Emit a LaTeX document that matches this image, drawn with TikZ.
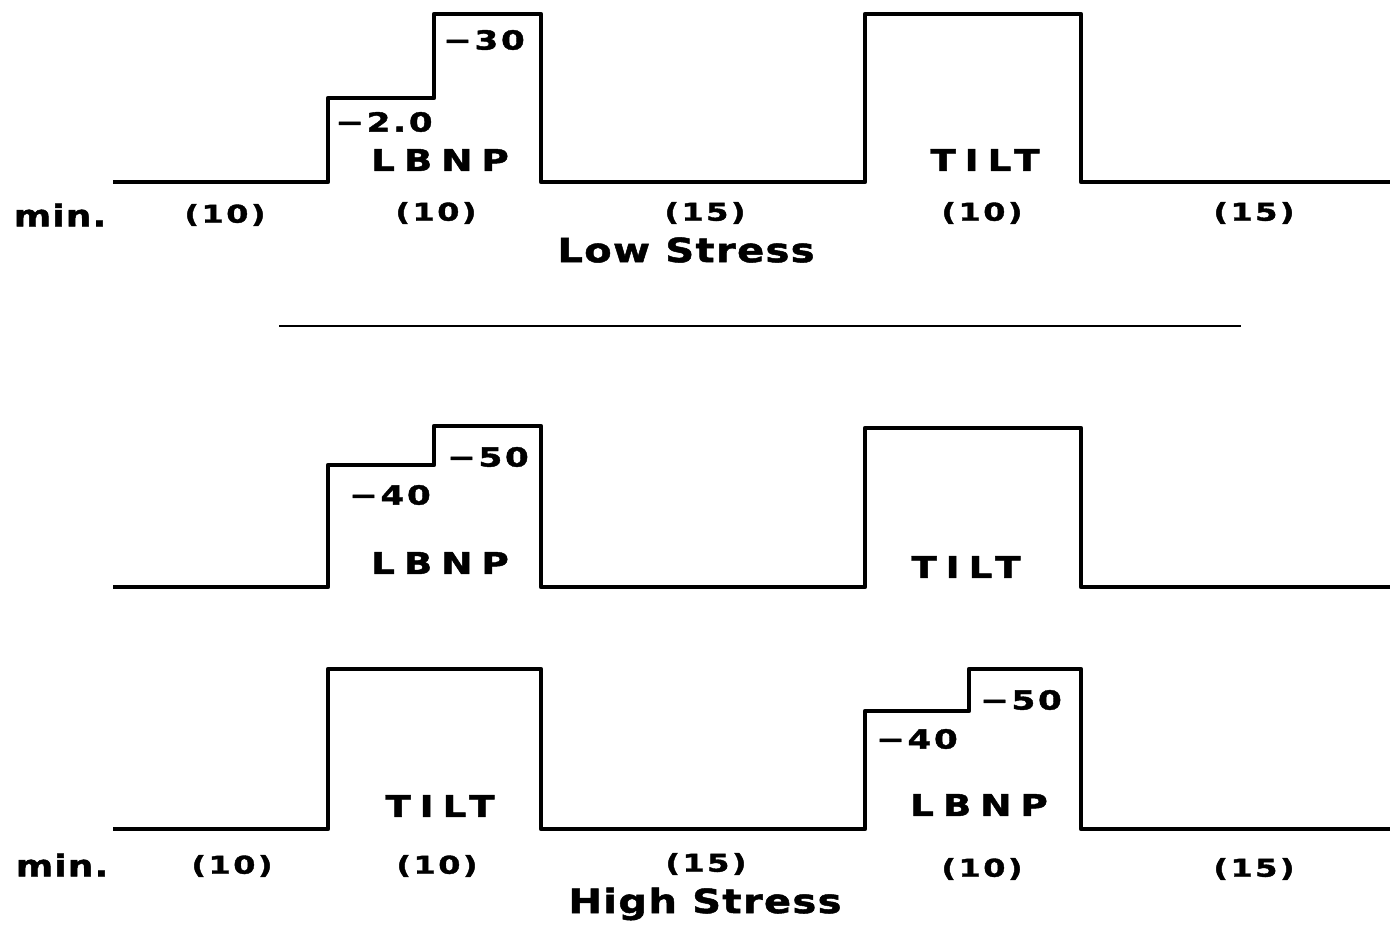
\documentclass[tikz,border=0pt]{standalone}
\usepackage{fontspec}
\setmainfont{DejaVu Sans}[FakeStretch=1.2, LetterSpace=4, FakeBold=1.5]
\newfontfamily\spacedfont{DejaVu Sans}[FakeStretch=1.25, LetterSpace=30, FakeBold=1.5]
\newfontfamily\numfont{DejaVu Sans}[FakeStretch=1.3, LetterSpace=10, FakeBold=1.5]
\usetikzlibrary{positioning}

\begin{document}
\begin{tikzpicture}[x=0.02cm, y=-0.02cm,
  trace/.style={line width=2.5pt, line join=round},
  lvl/.style={font=\numfont\bfseries\fontsize{15}{15}\selectfont, inner sep=0pt},
  task/.style={font=\spacedfont\bfseries\fontsize{17}{17}\selectfont, inner sep=0pt},
  unit/.style={font=\bfseries\fontsize{17}{17}\selectfont, inner sep=0pt},
  dur/.style={font=\numfont\bfseries\fontsize{14}{14}\selectfont, inner sep=0pt},
  title/.style={font=\bfseries\fontsize{19}{19}\selectfont, inner sep=0pt}
]
  \useasboundingbox (0,0) rectangle (1390,925);

  % low stress
  \draw[trace] (113,182) -- (328,182) -- (328,98) -- (434,98) -- (434,14) -- (541,14)
    -- (541,182) -- (865,182) -- (865,14) -- (1081,14) -- (1081,182) -- (1390,182);
  \node[lvl] (l30) at (484,40) {−30};
  \node[lvl] (l20) at (384,122) {−2.0};
  \node[task] (lbnp1) at (440,160) {LBNP};
  \node[task] (tilt1) at (985,160) {TILT};
  \node[unit] (min1) at (60,215) {min.};
  \node[dur] (d11) at (225,215) {(10)};
  \node[dur] (d12) at (436,213) {(10)};
  \node[dur] (d13) at (705,213) {(15)};
  \node[dur] (d14) at (982,213) {(10)};
  \node[dur] (d15) at (1254,213) {(15)};
  \node[title] (low) at (686,250) {Low Stress};

  \draw[line width=1.2pt] (279,326) -- (1241,326);

  % high stress, lbnp first
  \draw[trace] (113,587) -- (328,587) -- (328,465) -- (434,465) -- (434,426) -- (541,426)
    -- (541,587) -- (865,587) -- (865,428) -- (1081,428) -- (1081,587) -- (1390,587);
  \node[lvl] (m40) at (390,495) {−40};
  \node[lvl] (m50) at (488,457) {−50};
  \node[task] (lbnp2) at (440,563) {LBNP};
  \node[task] (tilt2) at (966,567) {TILT};

  % high stress, tilt first
  \draw[trace] (113,829) -- (328,829) -- (328,669) -- (541,669) -- (541,829) -- (865,829)
    -- (865,711) -- (969,711) -- (969,669) -- (1081,669) -- (1081,829) -- (1390,829);
  \node[task] (tilt3) at (440,806) {TILT};
  \node[lvl] (b40) at (917,739) {−40};
  \node[lvl] (b50) at (1021,700) {−50};
  \node[task] (lbnp3) at (979,805) {LBNP};
  \node[unit] (min2) at (62,865) {min.};
  \node[dur] (d21) at (232,866) {(10)};
  \node[dur] (d22) at (437,866) {(10)};
  \node[dur] (d23) at (706,864) {(15)};
  \node[dur] (d24) at (982,869) {(10)};
  \node[dur] (d25) at (1254,869) {(15)};
  \node[title] (high) at (705,904) {High Stress};
\end{tikzpicture}
\end{document}
